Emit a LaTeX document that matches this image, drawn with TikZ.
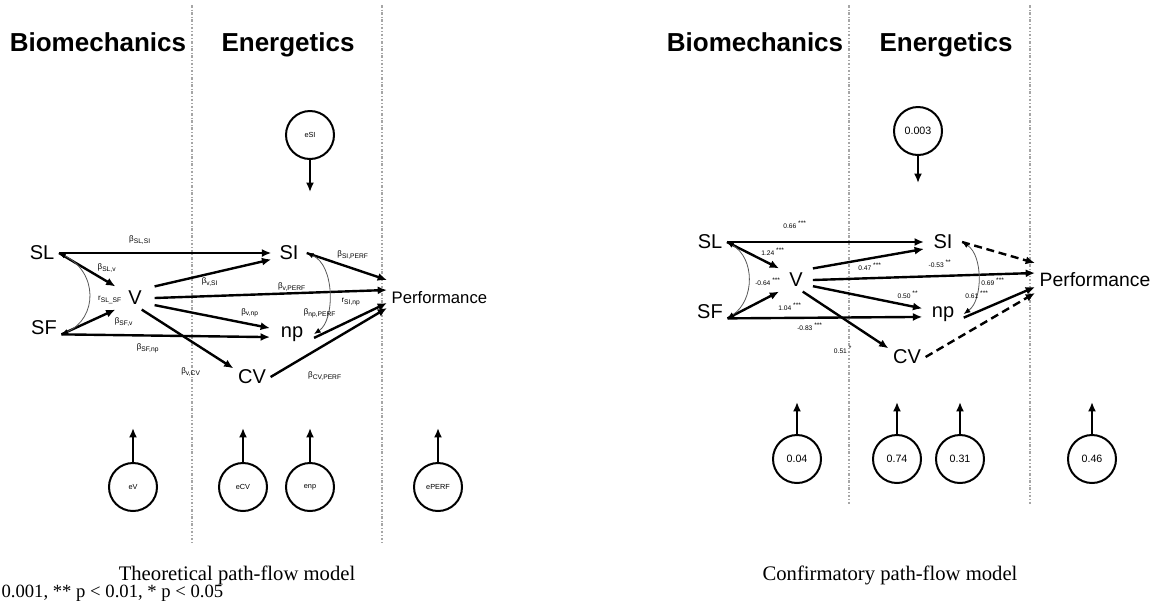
\documentclass[tikz,border=0pt]{standalone}
\usepackage{fontspec}
\setmainfont{Liberation Serif}
\setsansfont{Liberation Sans}
\usetikzlibrary{arrows.meta}

\tikzset{
  heading/.style={anchor=base, font=\sffamily\bfseries\fontsize{19.5}{22}\selectfont},
  varnode/.style={font=\sffamily\fontsize{15}{17}\selectfont},
  perfnode/.style={anchor=west, font=\sffamily\fontsize{#1}{16}\selectfont},
  coef/.style={font=\sffamily\fontsize{6}{7}\selectfont, inner sep=0pt},
  coefnum/.style={font=\sffamily\fontsize{5}{6}\selectfont, inner sep=0pt},
  errc/.style={draw, circle, line width=1.5pt, minimum size=36pt, inner sep=0pt,
    font=\sffamily\fontsize{5.5}{6}\selectfont},
  errnum/.style={errc, font=\sffamily\fontsize{8}{9}\selectfont},
  effect/.style={line width=1.8pt, -{Latex[length=7pt,width=6pt]}},
  weak/.style={effect, dash pattern=on 6pt off 3.5pt},
  corr/.style={line width=0.6pt, draw=gray!70!black,
    {Latex[length=5pt,width=4pt,black]}-{Latex[length=5pt,width=4pt,black]}},
  divider/.style={draw=gray!70, line width=0.8pt, dash pattern=on 2pt off 1.5pt on 0.4pt off 1.5pt},
  titletext/.style={anchor=base, font=\fontsize{15.5}{17}\selectfont}
}

\begin{document}
\begin{tikzpicture}[x=0.75pt, y=-0.75pt]
  \useasboundingbox (0,0) rectangle (1156,615);
  \fill[white] (0,0) rectangle (1156,615);

  % theoretical model
  \node[heading] (bioL) at (98,51) {Biomechanics};
  \node[heading] (enerL) at (288,51) {Energetics};
  \draw[divider] (192,5) -- (192,543);
  \draw[divider] (382,5) -- (382,543);

  \node[varnode] (slL) at (42,253) {SL};
  \node[varnode] (sfL) at (44,328) {SF};
  \node[varnode, inner xsep=9.5pt] (vL) at (135,298) {V};
  \node[varnode, inner xsep=6pt] (siL) at (289,253) {SI};
  \node[varnode, inner xsep=8pt] (npL) at (292,334) {np};
  \node[varnode] (cvL) at (252,377) {CV};
  \node[perfnode=12.5] (perfL) at (387,298) {Performance};

  \draw[effect] (slL.east) -- (siL.west);
  \draw[effect] (slL.east) -- (vL.north west);
  \draw[effect] (sfL.-20) -- (vL.south west);
  \draw[effect] (sfL.-20) -- (npL.-172);
  \draw[effect] (vL.north east) -- (siL.-160);
  \draw[effect] (vL.east) -- ([yshift=6pt]perfL.west);
  \draw[effect] (vL.-20) -- (npL.165);
  \draw[effect] (vL.-60) -- (cvL.155);
  \draw[effect] (siL.east) -- ([yshift=13.5pt]perfL.west);
  \draw[effect] (npL.-10) -- ([yshift=-3.75pt]perfL.west);
  \draw[effect] (cvL.east) -- ([yshift=-7.5pt]perfL.west);
  \draw[corr] (slL.east) .. controls (98,272) and (98,318) .. (sfL.-20);
  \draw[corr] (siL.east) .. controls (335,265) and (335,320) .. (npL.east);

  \node[coef] (bSLSI) at (140,240) {β\textsubscript{SL,SI}};
  \node[coef] (bSLv) at (107,268) {β\textsubscript{SL,v}};
  \node[coef] (rSLSF) at (110,300) {r\textsubscript{SL\_SF}};
  \node[coef] (bSFv) at (124,322) {β\textsubscript{SF,v}};
  \node[coef] (bSFnp) at (148,348) {β\textsubscript{SF,np}};
  \node[coef] (bvSI) at (210,282) {β\textsubscript{v,SI}};
  \node[coef] (bvPERF) at (292,287) {β\textsubscript{v,PERF}};
  \node[coef] (bvnp) at (250,313) {β\textsubscript{v,np}};
  \node[coef] (bvCV) at (191,372) {β\textsubscript{v,CV}};
  \node[coef] (bSIPERF) at (353,255) {β\textsubscript{SI,PERF}};
  \node[coef] (rSInp) at (351,302) {r\textsubscript{SI,np}};
  \node[coef] (bnpPERF) at (320,313) {β\textsubscript{np,PERF}};
  \node[coef] (bCVPERF) at (325,376) {β\textsubscript{CV,PERF}};

  \node[errc] (eSI) at (310,135) {eSI};
  \coordinate (eSIend) at (310,192);
  \draw[effect] (eSI) -- (eSIend);
  \node[errc] (eV) at (133,487) {eV};
  \coordinate (eVend) at (133,428);
  \draw[effect] (eV) -- (eVend);
  \node[errc] (eCV) at (243,487) {eCV};
  \coordinate (eCVend) at (243,428);
  \draw[effect] (eCV) -- (eCVend);
  \node[errc] (enp) at (310,487) {enp};
  \coordinate (enpend) at (310,428);
  \draw[effect] (enp) -- (enpend);
  \node[errc] (ePERF) at (438,487) {ePERF};
  \coordinate (ePERFend) at (438,428);
  \draw[effect] (ePERF) -- (ePERFend);

  \node[titletext] (capL) at (237,580) {Theoretical path-flow model};
  \node[titletext, anchor=base east, font=\fontsize{14}{16}\selectfont] (signif) at (228,597)
    {*** p < 0.001, ** p < 0.01, * p < 0.05};

  % confirmatory model
  \node[heading] (bioR) at (755,51) {Biomechanics};
  \node[heading] (enerR) at (946,51) {Energetics};
  \draw[divider] (849,5) -- (849,505);
  \draw[divider] (1030,5) -- (1030,505);

  \node[varnode] (slR) at (710,242) {SL};
  \node[varnode] (sfR) at (710,312) {SF};
  \node[varnode, inner xsep=7.5pt] (vR) at (796,280) {V};
  \node[varnode, inner xsep=7pt] (siR) at (943,242) {SI};
  \node[varnode, inner xsep=7pt] (npR) at (943,314) {np};
  \node[varnode] (cvR) at (907,357) {CV};
  \node[perfnode=14.5] (perfR) at (1035,280) {Performance};

  \draw[effect] (slR.east) -- (siR.west);
  \draw[effect] (slR.east) -- (vR.north west);
  \draw[effect] (sfR.-20) -- (vR.south west);
  \draw[effect] (sfR.-20) -- (npR.-172);
  \draw[effect] (vR.north east) -- (siR.-160);
  \draw[effect] (vR.east) -- ([yshift=5.25pt]perfR.west);
  \draw[effect] (vR.-20) -- (npR.165);
  \draw[effect] (vR.-60) -- (cvR.155);
  \draw[weak] (siR.east) -- ([yshift=12.75pt]perfR.west);
  \draw[effect] (npR.-10) -- ([yshift=-5.25pt]perfR.west);
  \draw[weak] (cvR.east) -- ([yshift=-9.75pt]perfR.west);
  \draw[corr] (slR.east) .. controls (755,258) and (755,300) .. (sfR.-20);
  \draw[corr] (siR.east) .. controls (983,255) and (983,300) .. (npR.east);

  \node[coefnum] (cSLSI) at (795,225) {0.66 \textsuperscript{***}};
  \node[coefnum] (cSLv) at (773,252) {1.24 \textsuperscript{***}};
  \node[coefnum] (cSLSF) at (768,282) {-0.64 \textsuperscript{***}};
  \node[coefnum] (cSFv) at (790,307) {1.04 \textsuperscript{***}};
  \node[coefnum] (cvSI) at (870,267) {0.47 \textsuperscript{***}};
  \node[coefnum] (cvPERF) at (940,264) {-0.53 \textsuperscript{**}};
  \node[coefnum] (cSInp) at (993,282) {0.69 \textsuperscript{***}};
  \node[coefnum] (cvnp) at (908,295) {0.50 \textsuperscript{**}};
  \node[coefnum] (cnpPERF) at (977,295) {0.61 \textsuperscript{***}};
  \node[coefnum] (cSFnp) at (810,327) {-0.83 \textsuperscript{***}};
  \node[coefnum] (cvCV) at (843,350) {0.51 \textsuperscript{*}};

  \node[errnum] (uSI) at (918,131) {0.003};
  \coordinate (uSIend) at (918,183);
  \draw[effect] (uSI) -- (uSIend);
  \node[errnum] (uV) at (797,459) {0.04};
  \coordinate (uVend) at (797,402);
  \draw[effect] (uV) -- (uVend);
  \node[errnum] (uCV) at (897,459) {0.74};
  \coordinate (uCVend) at (897,402);
  \draw[effect] (uCV) -- (uCVend);
  \node[errnum] (unp) at (960,459) {0.31};
  \coordinate (unpend) at (960,402);
  \draw[effect] (unp) -- (unpend);
  \node[errnum] (uPERF) at (1092,459) {0.46};
  \coordinate (uPERFend) at (1092,402);
  \draw[effect] (uPERF) -- (uPERFend);

  \node[titletext] (capR) at (890,580) {Confirmatory path-flow model};
\end{tikzpicture}
\end{document}
